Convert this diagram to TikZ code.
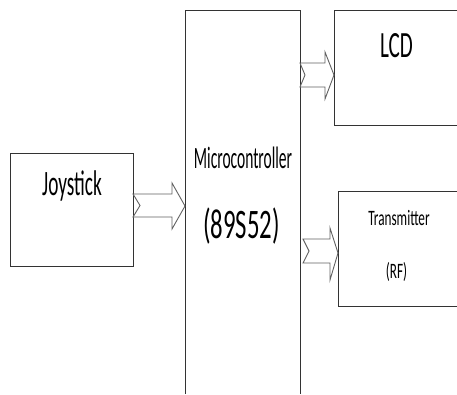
\documentclass[tikz,border=0pt]{standalone}
\usepackage{fontspec}
\usepackage{graphicx}
\setmainfont{Carlito}
\begin{document}
\begin{tikzpicture}[x=1pt,y=-1pt,
  box/.style={draw=black!80, line width=1pt},
  barrow/.style={draw=black!62, line width=0.9pt, fill=white, line join=miter},
  lbl/.style={anchor=base, inner sep=0pt}]
\useasboundingbox (0,0) rectangle (457,394);
% boxes
\node[box, minimum width=123pt, minimum height=113pt, inner sep=0pt, anchor=north west] (joy) at (10,153) {};
\coordinate (mcuNW) at (185,10);
\coordinate (mcuNE) at (300,10);
\coordinate (mcuSW) at (185,394);
\coordinate (mcuSE) at (300,394);
\draw[box] (mcuSW) -- (mcuNW) -- (mcuNE) -- (mcuSE);
\coordinate (lcdNW) at (334,10);
\coordinate (lcdSW) at (334,125);
\draw[box] (457,10) -- (lcdNW) -- (lcdSW) -- (457,125);
\coordinate (txNW) at (338,191);
\coordinate (txSW) at (338,306);
\draw[box] (457,191) -- (txNW) -- (txSW) -- (457,306);
% arrows
\draw[barrow] (133,194) -- (172,194) -- (172,183) -- (185,206) -- (172,229) -- (172,217) -- (133,217) -- (140,205.5) -- cycle;
\draw[barrow] (300,63) -- (325,63) -- (325,52) -- (334,75) -- (325,99) -- (325,87) -- (300,87) -- (305,75) -- cycle;
\draw[barrow] (303,239) -- (330,239) -- (330,228) -- (338,253) -- (330,280) -- (330,263) -- (303,263) -- (309,251) -- cycle;
% labels
\node[lbl, font=\fontsize{35.7}{40}\selectfont] (tjoy) at (72,195) {\scalebox{0.54}[1]{Joystick}};
\node[lbl, font=\fontsize{37}{40}\selectfont] (tlcd) at (396.5,57) {\scalebox{0.57}[1]{LCD}};
\node[lbl, font=\fontsize{31}{36}\selectfont] (tmcu) at (243,168) {\scalebox{0.5}[1]{Microcontroller}};
\node[lbl, font=\fontsize{42}{46}\selectfont] (tmcu2) at (241.5,238) {\scalebox{0.59}[1]{(89S52)}};
\node[lbl, font=\fontsize{22}{26}\selectfont] (ttx) at (399,225) {\scalebox{0.6}[1]{Transmitter}};
\node[lbl, font=\fontsize{22}{26}\selectfont] (ttx2) at (396.5,278) {\scalebox{0.6}[1]{(RF)}};
\end{tikzpicture}
\end{document}
